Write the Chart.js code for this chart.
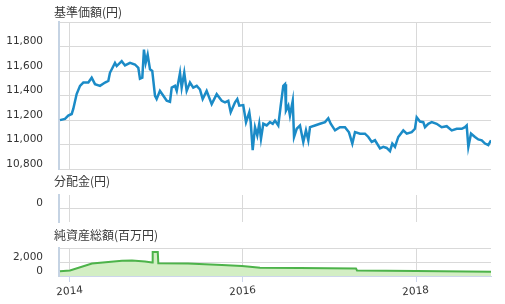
<!DOCTYPE html>
<html>
<head>
<meta charset="utf-8">
<script src="https://cdn.jsdelivr.net/npm/chart.js@4.4.1/dist/chart.umd.min.js"></script>
<style>
  body { margin: 0; background: #fff; }
  #wrap { position: relative; width: 505px; height: 304px; }
  #wrap canvas { position: absolute; left: 0; top: 0; }
</style>
</head>
<body>
<div id="wrap">
  <canvas id="navChart" width="505" height="304"></canvas>
  <canvas id="distChart" width="505" height="304"></canvas>
  <canvas id="assetChart" width="505" height="304"></canvas>
</div>
<script>
// Data (x = decimal year)
const navYears = [2013.884, 2013.942, 2013.980, 2014.020, 2014.038, 2014.077, 2014.116, 2014.154, 2014.212, 2014.251,
  2014.289, 2014.347, 2014.405, 2014.443, 2014.462, 2014.520, 2014.540, 2014.598, 2014.636, 2014.694,
  2014.751, 2014.790, 2014.809, 2014.836, 2014.855, 2014.875, 2014.898, 2014.925, 2014.951, 2014.983,
  2015.002, 2015.040, 2015.079, 2015.118, 2015.156, 2015.176, 2015.214, 2015.234, 2015.272, 2015.291,
  2015.321, 2015.349, 2015.387, 2015.425, 2015.465, 2015.503, 2015.534, 2015.580, 2015.638, 2015.696,
  2015.754, 2015.792, 2015.830, 2015.858, 2015.908, 2015.934, 2015.957, 2016.003, 2016.035, 2016.073,
  2016.089, 2016.112, 2016.139, 2016.165, 2016.188, 2016.208, 2016.235, 2016.274, 2016.312, 2016.344,
  2016.370, 2016.408, 2016.436, 2016.466, 2016.486, 2016.497, 2016.524, 2016.543, 2016.575, 2016.590,
  2016.621, 2016.659, 2016.697, 2016.728, 2016.755, 2016.775, 2016.832, 2016.890, 2016.948, 2016.986,
  2017.014, 2017.064, 2017.121, 2017.179, 2017.225, 2017.264, 2017.295, 2017.353, 2017.410, 2017.449,
  2017.488, 2017.526, 2017.584, 2017.622, 2017.661, 2017.699, 2017.726, 2017.757, 2017.795, 2017.853,
  2017.893, 2017.950, 2017.988, 2018.008, 2018.046, 2018.084, 2018.104, 2018.142, 2018.182, 2018.239,
  2018.297, 2018.355, 2018.413, 2018.471, 2018.529, 2018.566, 2018.586, 2018.605, 2018.636, 2018.682,
  2018.720, 2018.760, 2018.798, 2018.836, 2018.867];
const navValues = [11200, 11210, 11237, 11250, 11291, 11413, 11480, 11507, 11507, 11547,
  11494, 11480, 11507, 11520, 11587, 11668, 11642, 11682, 11647, 11668,
  11655, 11628, 11539, 11547, 11777, 11668, 11736, 11615, 11602, 11399,
  11372, 11439, 11399, 11358, 11350, 11466, 11480, 11439, 11587, 11466,
  11587, 11439, 11507, 11466, 11480, 11450, 11372, 11439, 11331, 11412,
  11358, 11345, 11358, 11264, 11345, 11372, 11318, 11323, 11183, 11264,
  11183, 10954, 11142, 11075, 11170, 11048, 11170, 11156, 11183, 11170,
  11196, 11156, 11318, 11480, 11494, 11278, 11318, 11237, 11358, 11062,
  11129, 11156, 11021, 11116, 11035, 11142, 11156, 11170, 11183, 11215,
  11170, 11116, 11142, 11142, 11100, 11008, 11102, 11089, 11089, 11062,
  11021, 11035, 10968, 10981, 10972, 10946, 11008, 10981, 11062, 11116,
  11089, 11102, 11129, 11223, 11188, 11183, 11142, 11170, 11183, 11170,
  11142, 11150, 11116, 11129, 11129, 11142, 11156, 10981, 11089, 11062,
  11042, 11035, 11008, 10995, 11035];

// 分配金: no payouts in the period
const distYears = [];
const distValues = [];

// 純資産総額 (百万円)
const assetYears = [2013.884, 2014.000, 2014.254, 2014.601, 2014.717, 2014.867, 2014.950, 2014.956, 2015.015, 2015.021,
  2015.364, 2015.757, 2015.988, 2016.081, 2016.197, 2016.659, 2017.306, 2017.318, 2018.000, 2018.867];
const assetValues = [700, 800, 1800, 2200, 2250, 2100, 1950, 3450, 3450, 1850,
  1800, 1600, 1450, 1350, 1200, 1150, 1100, 800, 720, 600];

const yearTicks = [2014, 2016, 2018];
const navTicks = [10800, 11000, 11200, 11400, 11600, 11800, 12000];
const navLabels = [10800, 11000, 11200, 11400, 11600, 11800];
const assetTicks = [0, 2000, 4000];
const assetLabels = [0, 2000];

// Style
const xMin = 2013.873, xMax = 2018.867;
const gridColor = "#d9d9d9";
const axisColor = "#c5d3e3";
const numFont = { family: "DejaVu Sans", size: 10.5 };

// panel title, drawn at the left like the original
const panelTitle = {
  id: "panelTitle",
  afterDraw: function (chart, args, opts) {
    const ctx = chart.ctx;
    ctx.save();
    ctx.font = "12px 'Noto Sans CJK JP'";
    ctx.fillStyle = "#3a3a3a";
    ctx.textBaseline = "middle";
    ctx.fillText(opts.text, 54, opts.y);
    ctx.restore();
  },
};

function toPoints(xs, ys) {
  return xs.map(function (x, i) { return { x: x, y: ys[i] }; });
}

function panel(id, o) {
  return new Chart(document.getElementById(id), {
    type: "line",
    data: { datasets: o.datasets },
    plugins: [panelTitle],
    options: {
      responsive: false,
      animation: false,
      events: [],
      layout: { padding: { left: 0, right: 14, top: o.top, bottom: o.bottom } },
      plugins: {
        legend: { display: false },
        tooltip: { enabled: false },
        panelTitle: { text: o.title, y: o.titleY },
      },
      scales: {
        x: {
          type: "linear", min: xMin, max: xMax,
          afterBuildTicks: function (s) { s.ticks = yearTicks.map(function (v) { return { value: v }; }); },
          afterFit: function (s) { s.height = o.xHeight; },
          grid: { color: gridColor, drawTicks: o.showYears, tickLength: 6, tickColor: "#ccd6eb" },
          border: { display: o.showYears, color: "#ccd6eb" },
          ticks: {
            display: o.showYears, font: numFont, color: "#333", minRotation: 5, maxRotation: 5,
            autoSkip: false, labelOffset: 13, padding: 2, callback: function (v) { return String(v); },
          },
        },
        y: {
          min: o.yMin, max: o.yMax,
          afterBuildTicks: function (s) { s.ticks = o.yTicks.map(function (v) { return { value: v }; }); },
          afterFit: function (s) { s.width = 59; },
          grid: { color: gridColor, drawTicks: false },
          border: { color: axisColor, width: 2 },
          ticks: {
            font: numFont, color: "#333", padding: 16, labelOffset: -5, autoSkip: false,
            callback: function (v) { return o.yLabels.indexOf(v) >= 0 ? v.toLocaleString("en-US") : ""; },
          },
        },
      },
    },
  });
}

// 基準価額
panel("navChart", {
  title: "基準価額(円)", titleY: 12, top: 20.7, bottom: 135, xHeight: 0, showYears: false,
  yMin: 10800, yMax: 12000, yTicks: navTicks, yLabels: navLabels,
  datasets: [{
    data: toPoints(navYears, navValues),
    borderColor: "#1b8bc7", borderWidth: 2.5, pointRadius: 0, tension: 0, fill: false,
  }],
});

// 分配金
panel("distChart", {
  title: "分配金(円)", titleY: 181, top: 195, bottom: 82, xHeight: 0, showYears: false,
  yMin: -1, yMax: 1, yTicks: [0], yLabels: [0],
  datasets: [{
    data: toPoints(distYears, distValues),
    borderColor: "#1b8bc7", borderWidth: 2, pointRadius: 0,
  }],
});

// 純資産総額
panel("assetChart", {
  title: "純資産総額(百万円)", titleY: 235, top: 248.3, bottom: 0, xHeight: 28, showYears: true,
  yMin: 0, yMax: 4000, yTicks: assetTicks, yLabels: assetLabels,
  datasets: [{
    data: toPoints(assetYears, assetValues),
    borderColor: "#4db34a", backgroundColor: "#d3eec4", borderWidth: 2, pointRadius: 0, tension: 0, fill: "origin",
  }],
});
</script>
</body>
</html>
